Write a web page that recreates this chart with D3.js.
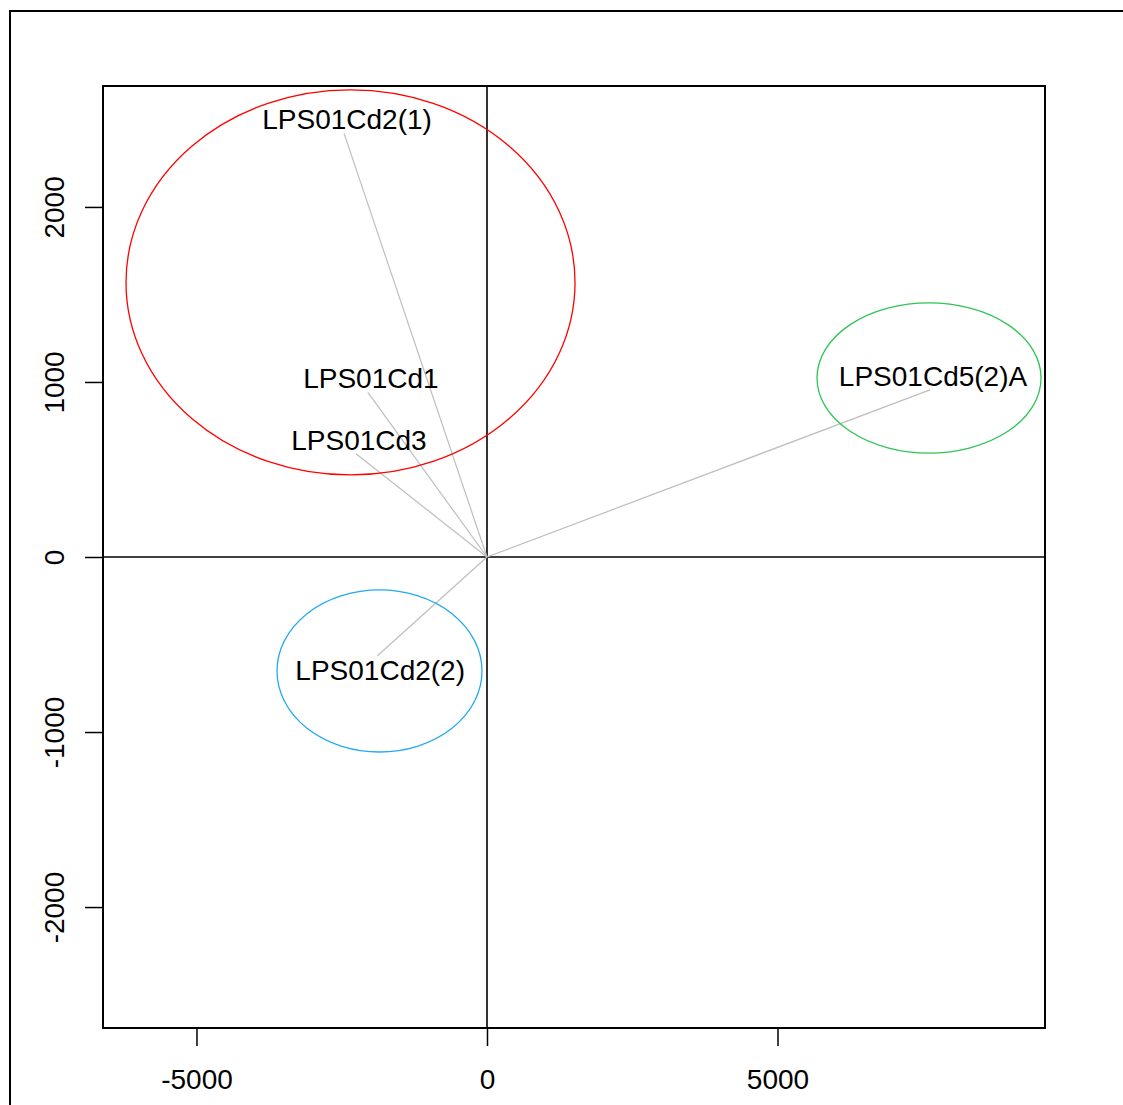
<!DOCTYPE html>
<html>
<head>
<meta charset="utf-8">
<script src="https://cdn.jsdelivr.net/npm/d3@7"></script>
<style>
  body { margin: 0; background: #fff; }
  text { font-family: "Liberation Sans", Arial, sans-serif; }
</style>
</head>
<body>
<svg id="chart" width="1123" height="1105"></svg>
<script>
// sample scores (label drawn next to the end of each vector)
const labels = ["LPS01Cd2(1)", "LPS01Cd1", "LPS01Cd3", "LPS01Cd5(2)A", "LPS01Cd2(2)"];
const xs = [-2460, -2050, -2255, 7625, -1890];
const ys = [2420, 940, 590, 955, -566];

// group ellipses
const ellColors = ["#ff0000", "#2ec454", "#22aaf0"];
const ellCx = [-2349, 7608, -1850];
const ellCy = [1569, 1023, -651];
const ellRx = [3864, 1928, 1764];
const ellRy = [1100, 429, 463];

const xTicks = [-5000, 0, 5000];
const yTicks = [-2000, -1000, 0, 1000, 2000];

const svg = d3.select("#chart");

const box = { left: 103, right: 1045, top: 86, bottom: 1028 };

const x = d3.scaleLinear().domain([-6609, 9604]).range([box.left, box.right]);
const y = d3.scaleLinear().domain([-2691, 2691]).range([box.bottom, box.top]);

// outer frame of the figure
svg.append("rect")
    .attr("x", 10).attr("y", 11)
    .attr("width", 1200).attr("height", 1200)
    .attr("fill", "none")
    .attr("stroke", "#000")
    .attr("stroke-width", 2);

// zero lines
svg.append("line")
    .attr("x1", box.left).attr("x2", box.right)
    .attr("y1", y(0)).attr("y2", y(0))
    .attr("stroke", "#000").attr("stroke-width", 1.6);
svg.append("line")
    .attr("x1", x(0)).attr("x2", x(0))
    .attr("y1", box.top).attr("y2", box.bottom)
    .attr("stroke", "#000").attr("stroke-width", 1.6);

// vectors from origin
const pts = labels.map((d, i) => ({ label: d, x: xs[i], y: ys[i] }));

svg.append("g").selectAll("line")
    .data(pts)
    .enter()
    .append("line")
    .attr("x1", x(0)).attr("y1", y(0))
    .attr("x2", d => x(d.x)).attr("y2", d => y(d.y))
    .attr("stroke", "#bebebe")
    .attr("stroke-width", 1.2);

// ellipses
const ells = ellColors.map((c, i) => ({ color: c, cx: ellCx[i], cy: ellCy[i], rx: ellRx[i], ry: ellRy[i] }));

svg.append("g").selectAll("ellipse")
    .data(ells)
    .enter()
    .append("ellipse")
    .attr("cx", d => x(d.cx))
    .attr("cy", d => y(d.cy))
    .attr("rx", d => x(d.cx + d.rx) - x(d.cx))
    .attr("ry", d => y(d.cy) - y(d.cy + d.ry))
    .attr("fill", "none")
    .attr("stroke", d => d.color)
    .attr("stroke-width", 1.3);

// labels: above the point when y > 0, below otherwise
svg.append("g").selectAll("text")
    .data(pts)
    .enter()
    .append("text")
    .attr("x", d => x(d.x) + 3)
    .attr("y", d => d.y > 0 ? y(d.y) - 4 : y(d.y) + 4)
    .attr("dy", d => d.y > 0 ? 0 : "0.72em")
    .attr("text-anchor", "middle")
    .style("font-size", "28px")
    .attr("fill", "#000")
    .text(d => d.label);

// plot box
svg.append("rect")
    .attr("x", box.left).attr("y", box.top)
    .attr("width", box.right - box.left)
    .attr("height", box.bottom - box.top)
    .attr("fill", "none")
    .attr("stroke", "#000")
    .attr("stroke-width", 2);

// axes
const xAxis = svg.append("g")
    .attr("transform", `translate(0,${box.bottom})`)
    .call(d3.axisBottom(x).tickValues(xTicks).tickSize(18).tickPadding(23).tickFormat(d3.format("d")));
const yAxis = svg.append("g")
    .attr("transform", `translate(${box.left},0)`)
    .call(d3.axisLeft(y).tickValues(yTicks).tickSize(18).tickFormat(d3.format("d")));

[xAxis, yAxis].forEach(g => {
    g.select(".domain").remove();
    g.selectAll(".tick line").attr("stroke", "#000").attr("stroke-width", 1.5);
    g.selectAll("text")
        .style("font-size", "28px")
        .style("font-family", "\"Liberation Sans\", Arial, sans-serif")
        .attr("fill", "#000")
        .text(d => d < 0 ? "-" + Math.abs(d) : d);
});

yAxis.selectAll("text")
    .attr("x", null)
    .attr("dy", null)
    .attr("text-anchor", "middle")
    .attr("transform", "translate(-39,0) rotate(-90)");
</script>
</body>
</html>
